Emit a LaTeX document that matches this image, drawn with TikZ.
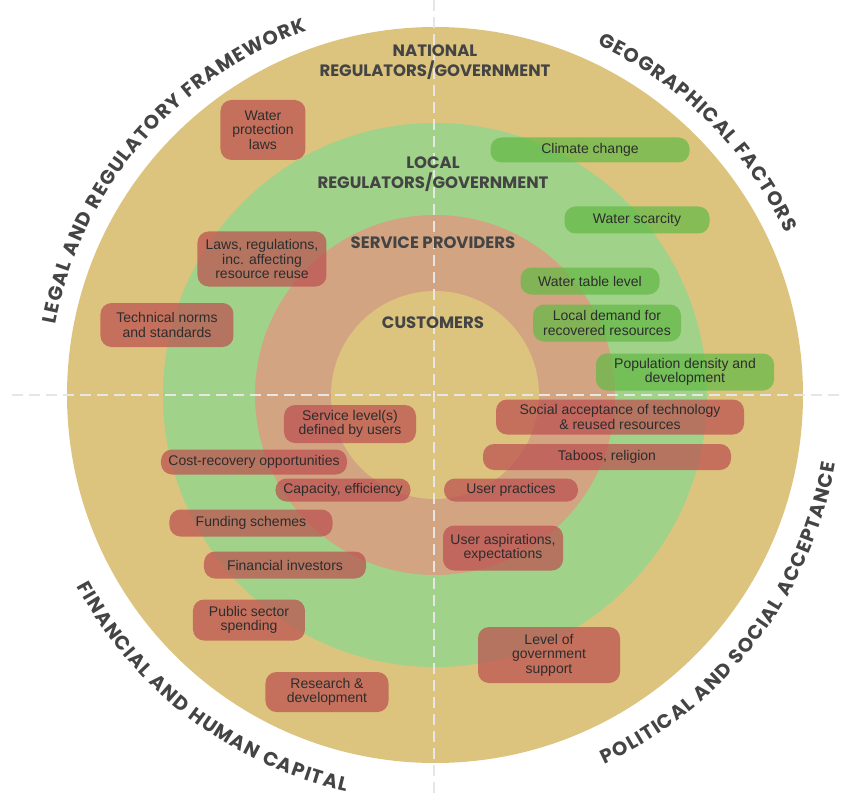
\documentclass[tikz,border=0pt]{standalone}
\usepackage{fontspec}
\setmainfont{Liberation Sans}
\newfontfamily\headfont{Poppins}
\usetikzlibrary{decorations.text}
\definecolor{ringY}{RGB}{220,196,126}
\definecolor{ringG}{RGB}{160,210,138}
\definecolor{ringS}{RGB}{210,164,130}
\definecolor{boxR}{RGB}{189,80,79}
\definecolor{boxG}{RGB}{100,185,70}
\definecolor{txt}{RGB}{45,45,45}
\definecolor{head}{RGB}{68,68,68}
\definecolor{dashc}{RGB}{230,230,230}
\newcommand\curvefont{\headfont\bfseries\fontsize{19.5}{24}\selectfont}
\begin{document}
\begin{tikzpicture}[x=1pt,y=1pt,
 rbox/.style={fill=boxR, fill opacity=0.72, text opacity=1, rounded corners=11pt, align=center, inner sep=0pt, font=\fontsize{14}{14.5}\selectfont, text=txt},
 gbox/.style={rbox, fill=boxG},
 sz/.style 2 args={minimum width=#1pt, minimum height=#2pt},
 ring/.style={font=\headfont\bfseries\fontsize{16.5}{20}\selectfont, text=head, align=center, inner sep=0pt},
 curved/.style={decorate, decoration={text effects along path, text={#1}, text align=center,
   text effects/.cd, text along path, characters={text=head, font=\curvefont},
   character widths={font=\curvefont, inner xsep=0.6pt}}},
 guide/.style={draw=dashc, line width=2.5pt, dash pattern=on 11pt off 6pt}
 ]
\useasboundingbox (-435,-403) rectangle (410,395);
% rings
\fill[ringY] (0,0) circle[radius=368];
\fill[ringG] (0,0) circle[radius=272];
\fill[ringS] (0,0) circle[radius=180];
\fill[ringY] (0,0) circle[radius=104];
% guides
\coordinate (vt) at (-1,395);
\coordinate (vb) at (-1,-403);
\coordinate (hl) at (-423,0);
\coordinate (hr) at (410,0);
\draw[guide] (vt) -- (vb);
\draw[guide] (hl) -- (hr);
% ring labels
\node[ring] (nat) at (0,333) {NATIONAL\\REGULATORS/GOVERNMENT};
\node[ring] (loc) at (-2,221) {LOCAL\\REGULATORS/GOVERNMENT};
\node[ring] (srv) at (-2,152) {SERVICE PROVIDERS};
\node[ring] (cus) at (-2,72) {CUSTOMERS};
% boxes
\node[rbox, sz={85}{60}] (wpl) at (-172,265) {Water\\protection\\laws};
\node[rbox, sz={129}{55}] (laws) at (-173,136) {Laws, regulations,\\inc. affecting\\resource reuse};
\node[rbox, sz={133}{44}] (tech) at (-268,70) {Technical norms\\and standards};
\node[gbox, sz={199}{25}] (clim) at (155,245) {Climate change};
\node[gbox, sz={145}{27}] (scar) at (202,175) {Water scarcity};
\node[gbox, sz={139}{27}] (table) at (155,114) {Water table level};
\node[gbox, sz={148}{37}] (dem) at (172,72) {Local demand for\\recovered resources};
\node[gbox, sz={178}{37}] (pop) at (250,23) {Population density and\\development};
\node[rbox, sz={132}{38}] (slv) at (-85,-29) {Service level(s)\\defined by users};
\node[rbox, sz={186}{25}] (cost) at (-181,-67) {Cost-recovery opportunities};
\node[rbox, sz={135}{23}] (cap) at (-92,-95) {Capacity, efficiency};
\node[rbox, sz={163}{27}] (fund) at (-184,-128) {Funding schemes};
\node[rbox, sz={162}{27}] (inv) at (-150,-170) {Financial investors};
\node[rbox, sz={112}{41}] (pub) at (-186,-225) {Public sector\\spending};
\node[rbox, sz={123}{40}] (rd) at (-108,-297) {Research \&\\development};
\node[rbox, sz={248}{35}] (soc) at (185,-22) {Social acceptance of technology\\\& reused resources};
\node[rbox, sz={248}{26}] (tab) at (172,-62) {Taboos, religion};
\node[rbox, sz={134}{23}] (prac) at (76,-95) {User practices};
\node[rbox, sz={120}{45}] (asp) at (68,-153) {User aspirations,\\expectations};
\node[rbox, sz={142}{56}] (gov) at (114,-260) {Level of\\government\\support};
% curved titles
\path[curved={LEGAL AND REGULATORY FRAMEWORK}] (184.4:386) arc[start angle=184.4, end angle=94.4, radius=386];
\path[curved={GEOGRAPHICAL FACTORS}] (85:386) arc[start angle=85, end angle=5, radius=386];
\path[curved={FINANCIAL AND HUMAN CAPITAL}] (187.7:406) arc[start angle=187.7, end angle=277.7, radius=406];
\path[curved={POLITICAL AND SOCIAL ACCEPTANCE}] (-82.5:406) arc[start angle=-82.5, end angle=7.5, radius=406];
\end{tikzpicture}
\end{document}
